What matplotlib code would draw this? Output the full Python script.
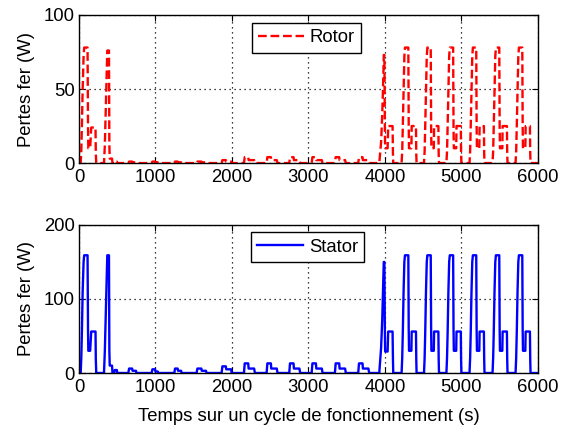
import numpy as np
import matplotlib
matplotlib.use("Agg")
import matplotlib.pyplot as plt

plt.rcParams['font.family'] = ['Liberation Sans', 'DejaVu Sans']

# urban part (0 - 500 s)
time_urban = [0, 22, 30, 38, 48, 60, 68, 112, 118, 122, 146, 160, 216, 220, 226,
              327, 338, 348, 360, 370, 392, 397, 402, 432, 438,
              460, 468, 495, 500]
stator_urban = [0, 0, 20, 55, 110, 150, 159, 159, 60, 30, 30, 56, 56, 18, 0,
                0, 30, 70, 120, 159, 159, 30, 10, 10, 0,
                0, 4, 4, 0]
rotor_urban = [0, 0, 8, 25, 50, 72, 78, 78, 25, 10, 10, 24, 24, 6, 0,
               0, 12, 32, 58, 76, 76, 12, 3, 3, 0,
               0, 1, 1, 0]

# low speed part (small bumps)
time_mid = [645, 655, 695, 700, 745, 752,
            950, 960, 995, 1000, 1030, 1037,
            1246, 1256, 1290, 1295, 1335, 1342,
            1538, 1548, 1600, 1605, 1660, 1669,
            1865, 1875, 1920, 1925, 1990, 1996,
            2157, 2167, 2213, 2218, 2290, 2300,
            2453, 2463, 2509, 2514, 2586, 2596,
            2749, 2759, 2805, 2810, 2882, 2892,
            3042, 3052, 3098, 3103, 3175, 3185,
            3346, 3356, 3402, 3407, 3479, 3489,
            3651, 3661, 3707, 3712, 3784, 3794]
stator_mid = [0, 6, 6, 3, 3, 0,
              0, 5, 5, 2, 2, 0,
              0, 6, 6, 3, 3, 0,
              0, 6, 6, 3, 3, 0,
              0, 9, 9, 5, 5, 0,
              0, 13, 13, 6, 6, 0,
              0, 13, 13, 6, 6, 0,
              0, 13, 13, 6, 6, 0,
              0, 13, 13, 6, 6, 0,
              0, 13, 13, 6, 6, 0,
              0, 13, 13, 6, 6, 0]
rotor_mid = [0, 1, 1, 0.5, 0.5, 0,
             0, 1, 1, 0.5, 0.5, 0,
             0, 1, 1, 0.5, 0.5, 0,
             0, 1, 1, 0.5, 0.5, 0,
             0, 2, 2, 1, 1, 0,
             0, 4, 4, 2, 2, 0,
             0, 4, 4, 2, 2, 0,
             0, 4, 4, 2, 2, 0,
             0, 4, 4, 2, 2, 0,
             0, 4, 4, 2, 2, 0,
             0, 4, 4, 2, 2, 0]

# highway part (3900 - 6000 s)
time_hwy = [3926, 3935, 3950, 3965, 3980, 3985, 3993, 3999, 4003, 4035, 4043, 4100, 4105, 4109,
            4218, 4226, 4234, 4244, 4254, 4262, 4306, 4311, 4315, 4346, 4350, 4406, 4410, 4414,
            4511, 4519, 4527, 4537, 4547, 4555, 4599, 4604, 4608, 4639, 4643, 4699, 4703, 4707,
            4804, 4812, 4820, 4830, 4840, 4848, 4892, 4897, 4901, 4932, 4936, 4992, 4996, 5000,
            5106, 5114, 5122, 5132, 5142, 5150, 5194, 5199, 5203, 5234, 5238, 5294, 5298, 5302,
            5407, 5415, 5423, 5433, 5443, 5451, 5495, 5500, 5504, 5535, 5539, 5595, 5599, 5603,
            5708, 5716, 5724, 5734, 5744, 5752, 5796, 5801, 5805, 5836, 5840, 5896, 5900, 5904,
            6000]
stator_hwy = [0, 13, 34, 72, 130, 150, 150, 60, 29, 29, 56, 56, 18, 0,
              0, 20, 55, 110, 150, 159, 159, 60, 30, 30, 56, 56, 18, 0,
              0, 20, 55, 110, 150, 159, 159, 60, 30, 30, 56, 56, 18, 0,
              0, 20, 55, 110, 150, 159, 159, 60, 30, 30, 56, 56, 18, 0,
              0, 20, 55, 110, 150, 159, 159, 60, 30, 30, 56, 56, 18, 0,
              0, 20, 55, 110, 150, 159, 159, 60, 30, 30, 56, 56, 18, 0,
              0, 20, 55, 110, 150, 159, 159, 60, 30, 30, 56, 56, 18, 0,
              0]
rotor_hwy = [0, 5, 14, 33, 60, 73, 73, 25, 10, 10, 25, 25, 6, 0,
             0, 8, 25, 50, 72, 78, 78, 25, 10, 10, 25, 25, 6, 0,
             0, 8, 25, 50, 72, 78, 78, 25, 10, 10, 25, 25, 6, 0,
             0, 8, 25, 50, 72, 78, 78, 25, 10, 10, 25, 25, 6, 0,
             0, 8, 25, 50, 72, 78, 78, 25, 10, 10, 25, 25, 6, 0,
             0, 8, 25, 50, 72, 78, 78, 25, 10, 10, 25, 25, 6, 0,
             0, 8, 25, 50, 72, 78, 78, 25, 10, 10, 25, 25, 6, 0,
             0]

t = np.concatenate([time_urban, time_mid, time_hwy])
rotor = np.concatenate([rotor_urban, rotor_mid, rotor_hwy])
stator = np.concatenate([stator_urban, stator_mid, stator_hwy])

fig = plt.figure(figsize=(5.61, 4.28), dpi=100)
ax1 = fig.add_axes([0.1408, 0.619, 0.818, 0.346])
ax2 = fig.add_axes([0.1408, 0.1285, 0.818, 0.346])

ax1.plot(t, rotor, color='red', linestyle='--', linewidth=1.7, label='Rotor')
ax2.plot(t, stator, color='blue', linestyle='-', linewidth=1.7, label='Stator')

fs = 13.3
for ax, ymax, yticks, anchor in [(ax1, 100, [0, 50, 100], (0.376, 0.948)),
                                 (ax2, 200, [0, 100, 200], (0.374, 0.951))]:
    ax.set_xlim(0, 6000)
    ax.set_ylim(0, ymax)
    ax.set_xticks([0, 1000, 2000, 3000, 4000, 5000, 6000])
    ax.set_yticks(yticks)
    ax.grid(True, color='black', linestyle=(0, (1, 3)), linewidth=0.9)
    ax.tick_params(direction='in', top=True, right=True, length=4, labelsize=fs)
    ax.tick_params(axis='x', pad=4)
    ax.tick_params(axis='y', pad=3)
    for s in ax.spines.values():
        s.set_linewidth(1.0)
    ax.set_ylabel('Pertes fer (W)', fontsize=fs, labelpad=6)
    leg = ax.legend(loc='upper left', bbox_to_anchor=anchor, borderaxespad=0,
                    fontsize=fs, fancybox=False, framealpha=1, handlelength=2.5,
                    borderpad=0.35, handletextpad=0.3)
    leg.get_frame().set_edgecolor('black')
    leg.get_frame().set_linewidth(1.0)

ax2.set_xlabel('Temps sur un cycle de fonctionnement (s)', fontsize=fs, labelpad=9)

fig.savefig('out.png', dpi=100)
